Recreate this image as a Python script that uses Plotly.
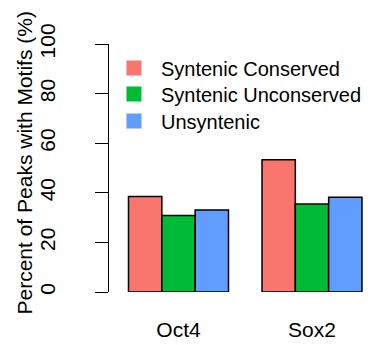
import plotly.graph_objects as go

categories = ["Oct4", "Sox2"]
series_names = ["Syntenic Conserved", "Syntenic Unconserved", "Unsyntenic"]
syntenic_conserved = [38.5, 53.3]
syntenic_unconserved = [30.8, 35.5]
unsyntenic = [33.1, 38.2]
y_ticks = [0, 20, 40, 60, 80, 100]
colors = ["#F8766D", "#00BA38", "#619CFF"]
y_title = "Percent of Peaks with Motifs (%)"

FONT = "Liberation Sans, Arial, sans-serif"
legend_ids = ["legend", "legend2", "legend3"]
legend_y = [0.903, 0.798, 0.690]

fig = go.Figure()
for name, vals, col, lg in zip(series_names, [syntenic_conserved, syntenic_unconserved, unsyntenic], colors, legend_ids):
    fig.add_trace(go.Bar(
        x=categories, y=vals, name=name,
        marker=dict(color=col, line=dict(color="black", width=1.5)),
        showlegend=False,
    ))
    fig.add_trace(go.Scatter(
        x=[None], y=[None], mode="markers", name=name, legend=lg,
        marker=dict(symbol="square", size=15, color=col),
    ))

legend_common = dict(xanchor="left", yanchor="middle", bgcolor="rgba(0,0,0,0)",
                     font=dict(size=20), itemwidth=44, tracegroupgap=0)
layout_legends = {}
for lg, ly in zip(legend_ids, legend_y):
    layout_legends[lg] = dict(x=-0.0076, y=ly, **legend_common)

fig.add_annotation(text=y_title, textangle=-90, xref="paper", yref="paper",
                   x=0, y=0.52, xanchor="center", yanchor="middle", xshift=-84.5,
                   showarrow=False, font=dict(size=21, color="black", family=FONT))

fig.update_layout(
    width=369, height=337,
    margin=dict(l=101, r=0, t=36, b=53, autoexpand=False),
    paper_bgcolor="white", plot_bgcolor="white",
    font=dict(family=FONT, size=21, color="black"),
    barmode="group", bargap=0.251, bargroupgap=0,
    xaxis=dict(range=[-0.5206, 1.487], showline=False, ticks="",
               ticklabelstandoff=23,
               showgrid=False, zeroline=False, automargin=False),
    yaxis=dict(range=[0, 100], tickvals=y_ticks, ticktext=[str(v) for v in y_ticks],
               tickangle=-90, showline=True, linecolor="black", linewidth=1,
               ticks="outside", ticklen=13, tickcolor="black", tickwidth=1,
               ticklabelstandoff=32,
               showgrid=False, zeroline=False, automargin=False),
    **layout_legends,
)

fig.write_html("out.html")
